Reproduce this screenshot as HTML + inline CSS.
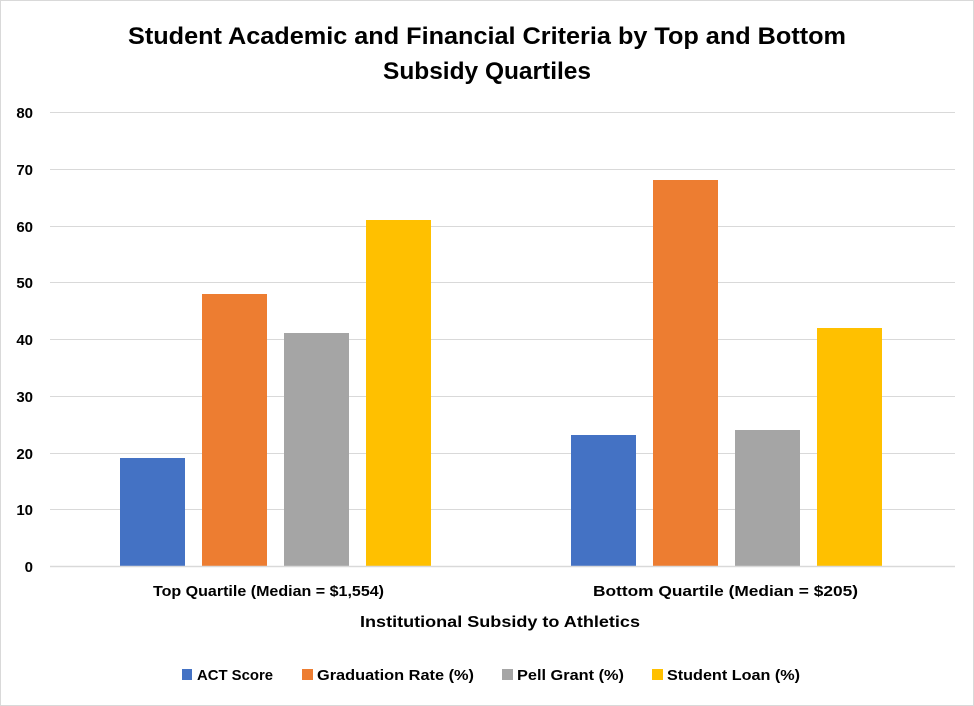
<!DOCTYPE html>
<html><head><style>body{margin:0;background:#fff}svg{display:block}</style></head><body>
<svg width="974" height="706" xmlns="http://www.w3.org/2000/svg" font-family="Liberation Sans, sans-serif" font-weight="bold">
<rect x="0.5" y="0.5" width="973" height="705" fill="#fff" stroke="#d9d9d9"/>
<text x="487" y="44" font-size="24" text-anchor="middle" textLength="718" lengthAdjust="spacingAndGlyphs">Student Academic and Financial Criteria by Top and Bottom</text>
<text x="487" y="79" font-size="24" text-anchor="middle" textLength="208" lengthAdjust="spacingAndGlyphs">Subsidy Quartiles</text>
<g stroke="#d9d9d9" stroke-width="1">
<line x1="50" x2="955" y1="112.5" y2="112.5"/><line x1="50" x2="955" y1="169.5" y2="169.5"/>
<line x1="50" x2="955" y1="226.5" y2="226.5"/><line x1="50" x2="955" y1="282.5" y2="282.5"/>
<line x1="50" x2="955" y1="339.5" y2="339.5"/><line x1="50" x2="955" y1="396.5" y2="396.5"/>
<line x1="50" x2="955" y1="453.5" y2="453.5"/><line x1="50" x2="955" y1="509.5" y2="509.5"/>
</g>
<g font-size="15" text-anchor="end">
<text x="33" y="118">80</text><text x="33" y="175">70</text><text x="33" y="232">60</text>
<text x="33" y="288">50</text><text x="33" y="345">40</text><text x="33" y="402">30</text>
<text x="33" y="459">20</text><text x="33" y="515">10</text><text x="33" y="572">0</text>
</g>
<rect x="120" y="458" width="65" height="108" fill="#4472c4"/>
<rect x="202" y="294" width="65" height="272" fill="#ed7d31"/>
<rect x="284" y="333" width="65" height="233" fill="#a5a5a5"/>
<rect x="366" y="220" width="65" height="346" fill="#ffc000"/>
<rect x="571" y="435" width="65" height="131" fill="#4472c4"/>
<rect x="653" y="180" width="65" height="386" fill="#ed7d31"/>
<rect x="735" y="430" width="65" height="136" fill="#a5a5a5"/>
<rect x="817" y="328" width="65" height="238" fill="#ffc000"/>
<line x1="50" x2="955" y1="566.5" y2="566.5" stroke="#d9d9d9" stroke-width="1.5"/>
<g font-size="15">
<text x="153" y="596" textLength="231" lengthAdjust="spacingAndGlyphs">Top Quartile (Median = $1,554)</text>
<text x="593" y="596" textLength="265" lengthAdjust="spacingAndGlyphs">Bottom Quartile (Median  = $205)</text>
<text x="360" y="627" font-size="16" textLength="280" lengthAdjust="spacingAndGlyphs">Institutional Subsidy to Athletics</text>
</g>
<g font-size="15">
<rect x="182" y="669" width="10" height="11" fill="#4472c4"/>
<text x="197" y="680" textLength="76" lengthAdjust="spacingAndGlyphs">ACT Score</text>
<rect x="302" y="669" width="11" height="11" fill="#ed7d31"/>
<text x="317" y="680" textLength="157" lengthAdjust="spacingAndGlyphs">Graduation Rate (%)</text>
<rect x="502" y="669" width="11" height="11" fill="#a5a5a5"/>
<text x="517" y="680" textLength="107" lengthAdjust="spacingAndGlyphs">Pell Grant (%)</text>
<rect x="652" y="669" width="11" height="11" fill="#ffc000"/>
<text x="667" y="680" textLength="133" lengthAdjust="spacingAndGlyphs">Student Loan (%)</text>
</g>
</svg>
</body></html>
